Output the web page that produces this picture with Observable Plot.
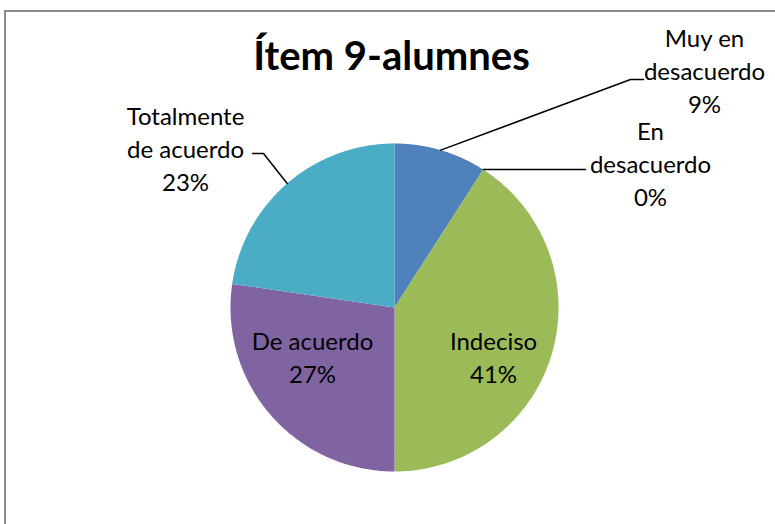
<!DOCTYPE html>
<html><head><meta charset="utf-8">
<script src="https://cdn.jsdelivr.net/npm/d3@7"></script>
<script src="https://cdn.jsdelivr.net/npm/@observablehq/plot@0.6"></script>
<style>
html,body{margin:0;padding:0;background:#fff;}
#wrap{position:relative;width:775px;height:524px;overflow:hidden;}
#border{position:absolute;left:4px;top:10px;width:900px;height:700px;border:2px solid #8c8c8c;box-sizing:border-box;}
#chart{position:absolute;left:0;top:0;}
</style></head><body>
<div id="wrap"><div id="border"></div><div id="chart"></div></div>
<script>
// ---- data ----
const title = "Ítem 9-alumnes";
const categories = ["Muy en desacuerdo", "En desacuerdo", "Indeciso", "De acuerdo", "Totalmente de acuerdo"];
const shares = [9.1, 0, 40.9, 27.3, 22.7];
const labelLines = [["Muy en", "desacuerdo"], ["En", "desacuerdo"], ["Indeciso"], ["De acuerdo"], ["Totalmente", "de acuerdo"]];
const colors = ["#4F81BD", "#C0504D", "#9BBB59", "#8064A2", "#4BACC6"];

// ---- layout (screen pixels, relative to pie centre) ----
const R = 164;
const layout = {
  "Muy en desacuerdo":     {label: [310, -235], leader: [[236, -228], [249, -228]]},
  "En desacuerdo":         {label: [256, -142], leader: [[191, -138]]},
  "Indeciso":              {label: [99, 51]},
  "De acuerdo":            {label: [-82, 51]},
  "Totalmente de acuerdo": {label: [-209, -157], leader: [[-131, -154], [-142, -154]]}
};
const toData = ([px, py]) => [px / R, -py / R];

const data = categories.map((name, i) => ({name, value: shares[i], lines: labelLines[i]}));
const total = d3.sum(shares);
const arcs = d3.pie().sort(null).value(d => d.value)(data);

const slices = arcs.filter(a => a.endAngle > a.startAngle).map(a => {
  const n = 180, pts = [[0, 0]];
  for (let i = 0; i <= n; i++) {
    const t = a.startAngle + (a.endAngle - a.startAngle) * i / n;
    pts.push([Math.sin(t), Math.cos(t)]);
  }
  pts.push([0, 0]);
  return {type: "Feature", properties: {name: a.data.name}, geometry: {type: "Polygon", coordinates: [pts]}};
});

const leaders = [];
const labels = [];
arcs.forEach(a => {
  const L = layout[a.data.name];
  const mid = (a.startAngle + a.endAngle) / 2;
  if (L.leader) {
    leaders.push({k: a.data.name, x: Math.sin(mid), y: Math.cos(mid)});
    L.leader.forEach(p => { const [x, y] = toData(p); leaders.push({k: a.data.name, x, y}); });
  }
  const [x, y] = toData(L.label);
  const pct = Math.round(a.data.value / total * 100) + "%";
  labels.push({x, y, text: [...a.data.lines, pct].join("\n")});
});

const chart = Plot.plot({
  width: 775, height: 524,
  marginLeft: 230, marginRight: 217, marginTop: 143, marginBottom: 53,
  projection: {type: "reflect-y", domain: {type: "MultiPoint", coordinates: [[-1, -1], [1, 1]]}, inset: 0, clip: false},
  color: {domain: categories, range: colors},
  style: {fontFamily: "Lato", background: "transparent", overflow: "visible"},
  marks: [
    Plot.geo(slices, {fill: d => d.properties.name}),
    Plot.line(leaders, {x: "x", y: "y", z: "k", stroke: "black", strokeWidth: 1.5}),
    Plot.text(labels, {x: "x", y: "y", text: "text", dy: -3, fontSize: 24, lineHeight: 1.375, fill: "black"}),
    Plot.text([title], {frameAnchor: "top", lineAnchor: "middle", dx: -3, dy: -86, fontSize: 40, fontWeight: "bold", fill: "black"})
  ]
});
document.getElementById("chart").appendChild(chart);
</script>
</body></html>
